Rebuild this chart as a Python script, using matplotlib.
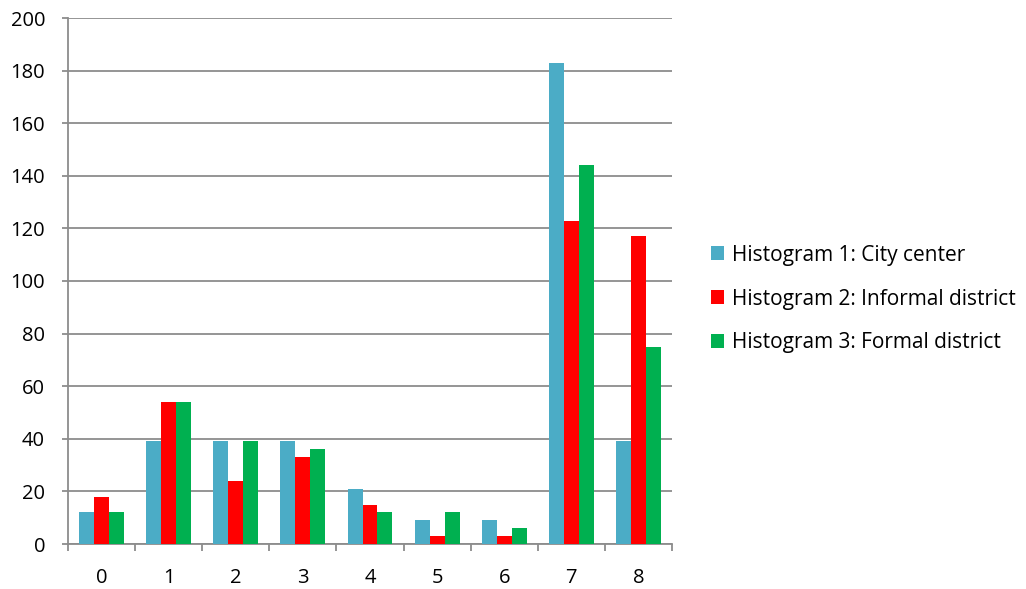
import numpy as np
import matplotlib.pyplot as plt

# bins and counts per histogram
bins = [0, 1, 2, 3, 4, 5, 6, 7, 8]
city_center = [12, 39, 39, 39, 21, 9, 9, 183, 39]
informal = [18, 54, 24, 33, 15, 3, 3, 123, 117]
formal = [12, 54, 39, 36, 12, 12, 6, 144, 75]
labels = ['Histogram 1: City center', 'Histogram 2: Informal district',
          'Histogram 3: Formal district']
colors = ['#4BACC6', '#FF0000', '#00B050']

plt.rcParams['font.family'] = ['Open Sans', 'DejaVu Sans']

fig = plt.figure(figsize=(10.26, 5.89), dpi=100)
ax = fig.add_axes([68 / 1026, 1 - 544 / 589, 604 / 1026, 526 / 589])

x = np.arange(len(bins))
w = 0.223
for i, (vals, lab, c) in enumerate(zip([city_center, informal, formal], labels, colors)):
    ax.bar(x + (i - 1) * w, vals, width=w, color=c, label=lab, zorder=3)

ax.set_xlim(-0.5, len(bins) - 0.5)
ax.set_ylim(0, 200)
ax.set_yticks(range(0, 201, 20))
ax.yaxis.grid(True, color='#8c8c8c', linewidth=1.3, zorder=0)

# category boundaries get the tick marks, labels sit in the middle
ax.set_xticks(np.arange(-0.5, len(bins)), labels=[''] * (len(bins) + 1))
ax.set_xticks(x, labels=[str(b) for b in bins], minor=True)
ax.tick_params(axis='x', which='major', length=5, width=1.3, color='#8c8c8c')
ax.tick_params(axis='x', which='minor', length=0, pad=17, labelsize=14.5)
ax.tick_params(axis='y', length=4.5, width=1.3, color='#8c8c8c', labelsize=14.5, pad=12)

for s in ['top', 'right']:
    ax.spines[s].set_visible(False)
for s in ['left', 'bottom']:
    ax.spines[s].set_color('#8c8c8c')
    ax.spines[s].set_linewidth(1.3)

fig.legend(loc='center left', bbox_to_anchor=(692 / 1026, 1 - 299 / 589),
           frameon=False, fontsize=15, handlelength=0.65, handleheight=0.65,
           handletextpad=0.35, labelspacing=1.1)

plt.savefig('out.png', dpi=100)
plt.close()
